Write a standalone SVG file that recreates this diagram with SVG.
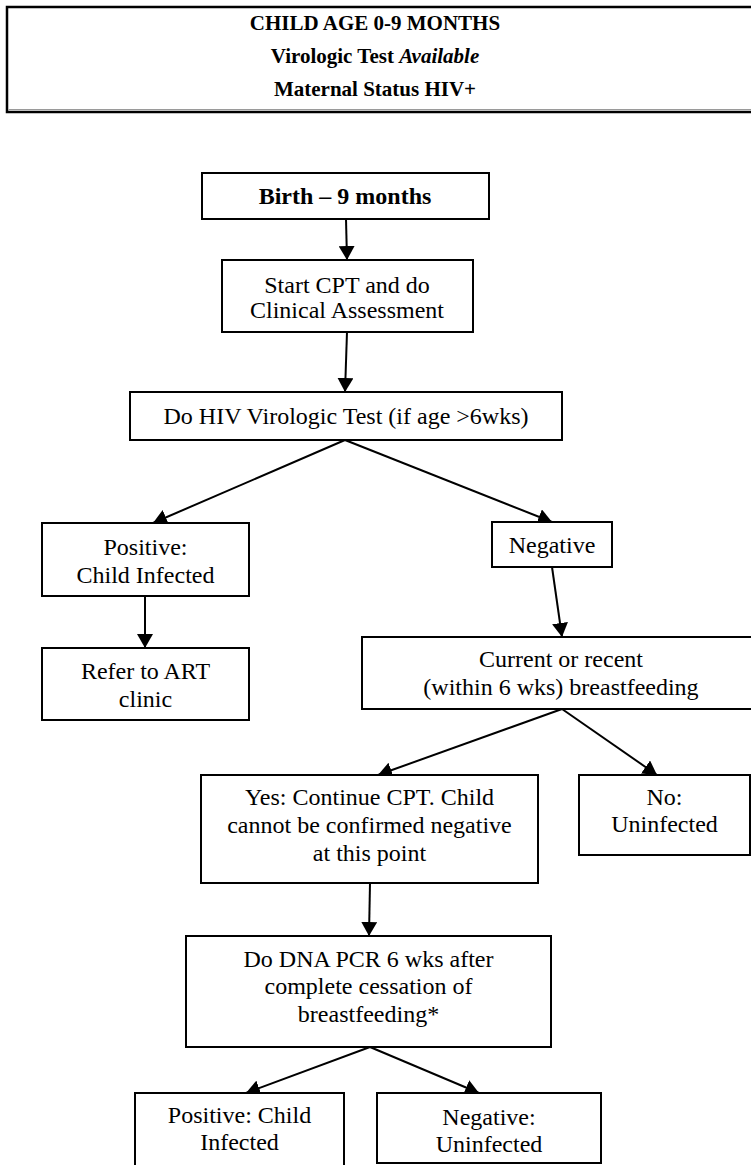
<svg xmlns="http://www.w3.org/2000/svg" width="751" height="1165" viewBox="0 0 751 1165">
<defs>
<style>
.box{fill:#fff;stroke:#000;stroke-width:2}
.t{font-family:"Liberation Serif","Times New Roman",serif;font-size:24px;fill:#000;text-anchor:middle}
.b{font-weight:bold}
.h{font-size:21px}
.c{stroke:#000;stroke-width:2;fill:none;marker-end:url(#ah)}
</style>
<marker id="ah" viewBox="0 0 14 16" refX="14" refY="8" markerWidth="14" markerHeight="16" markerUnits="userSpaceOnUse" orient="auto">
<path d="M0,0 L14,8 L0,16 z" fill="#000"/>
</marker>
</defs>
<rect width="751" height="1165" fill="#fff"/>
<g id="connectors">
<path class="c" d="M346,219 L347,260"/>
<path class="c" d="M347,332 L345,392"/>
<path class="c" d="M345,440 L153,523"/>
<path class="c" d="M345,440 L552,522"/>
<path class="c" d="M145,596 L145,648"/>
<path class="c" d="M552,567 L562,637"/>
<path class="c" d="M562,709 L378,775"/>
<path class="c" d="M562,709 L657,775"/>
<path class="c" d="M370,883 L369,936"/>
<path class="c" d="M370,1047 L246,1093"/>
<path class="c" d="M370,1047 L479,1093"/>
</g>
<g id="header">
<rect x="7" y="7" width="760" height="105" fill="#fff" stroke="#000" stroke-width="2.5"/>
<line x1="8.5" y1="109.5" x2="751" y2="109.5" stroke="#9a9a9a" stroke-width="1.2"/>
<text class="t b h" x="375" y="30">CHILD AGE 0-9 MONTHS</text>
<text class="t b h" x="375" y="63">Virologic Test <tspan font-style="italic">Available</tspan></text>
<text class="t b h" x="375" y="96">Maternal Status HIV+</text>
</g>
<g id="birth">
<rect class="box" x="202" y="173" width="287" height="46"/>
<text class="t b" x="345" y="204">Birth – 9 months</text>
</g>
<g id="start">
<rect class="box" x="222" y="260" width="251" height="72"/>
<text class="t" x="347" y="293">Start CPT and do</text>
<text class="t" x="347" y="318">Clinical Assessment</text>
</g>
<g id="hivtest">
<rect class="box" x="130" y="392" width="432" height="48"/>
<text class="t" x="346" y="424">Do HIV Virologic Test (if age &gt;6wks)</text>
</g>
<g id="positive">
<rect class="box" x="42" y="523" width="207" height="73"/>
<text class="t" x="145.5" y="555">Positive:</text>
<text class="t" x="145.5" y="583">Child Infected</text>
</g>
<g id="refer">
<rect class="box" x="42" y="648" width="207" height="72"/>
<text class="t" x="145.5" y="679">Refer to ART</text>
<text class="t" x="145.5" y="707">clinic</text>
</g>
<g id="negative">
<rect class="box" x="492" y="522" width="120" height="45"/>
<text class="t" x="552" y="553">Negative</text>
</g>
<g id="breastfeeding">
<rect class="box" x="362" y="637" width="400" height="72"/>
<text class="t" x="561" y="667">Current or recent</text>
<text class="t" x="561" y="695">(within 6 wks) breastfeeding</text>
</g>
<g id="yes">
<rect class="box" x="201" y="775" width="337" height="108"/>
<text class="t" x="369.5" y="805">Yes: Continue CPT. Child</text>
<text class="t" x="369.5" y="833">cannot be confirmed negative</text>
<text class="t" x="369.5" y="861">at this point</text>
</g>
<g id="no">
<rect class="box" x="579" y="775" width="171" height="80"/>
<text class="t" x="664.5" y="805">No:</text>
<text class="t" x="664.5" y="832">Uninfected</text>
</g>
<g id="dnapcr">
<rect class="box" x="186" y="936" width="365" height="111"/>
<text class="t" x="368.5" y="967">Do DNA PCR 6 wks after</text>
<text class="t" x="368.5" y="994">complete cessation of</text>
<text class="t" x="368.5" y="1022">breastfeeding*</text>
</g>
<g id="pos2">
<rect class="box" x="135" y="1093" width="209" height="80"/>
<text class="t" x="239.5" y="1123">Positive: Child</text>
<text class="t" x="239.5" y="1150">Infected</text>
</g>
<g id="neg2">
<rect class="box" x="377" y="1093" width="224" height="70"/>
<text class="t" x="489" y="1125">Negative:</text>
<text class="t" x="489" y="1152">Uninfected</text>
</g>
</svg>
